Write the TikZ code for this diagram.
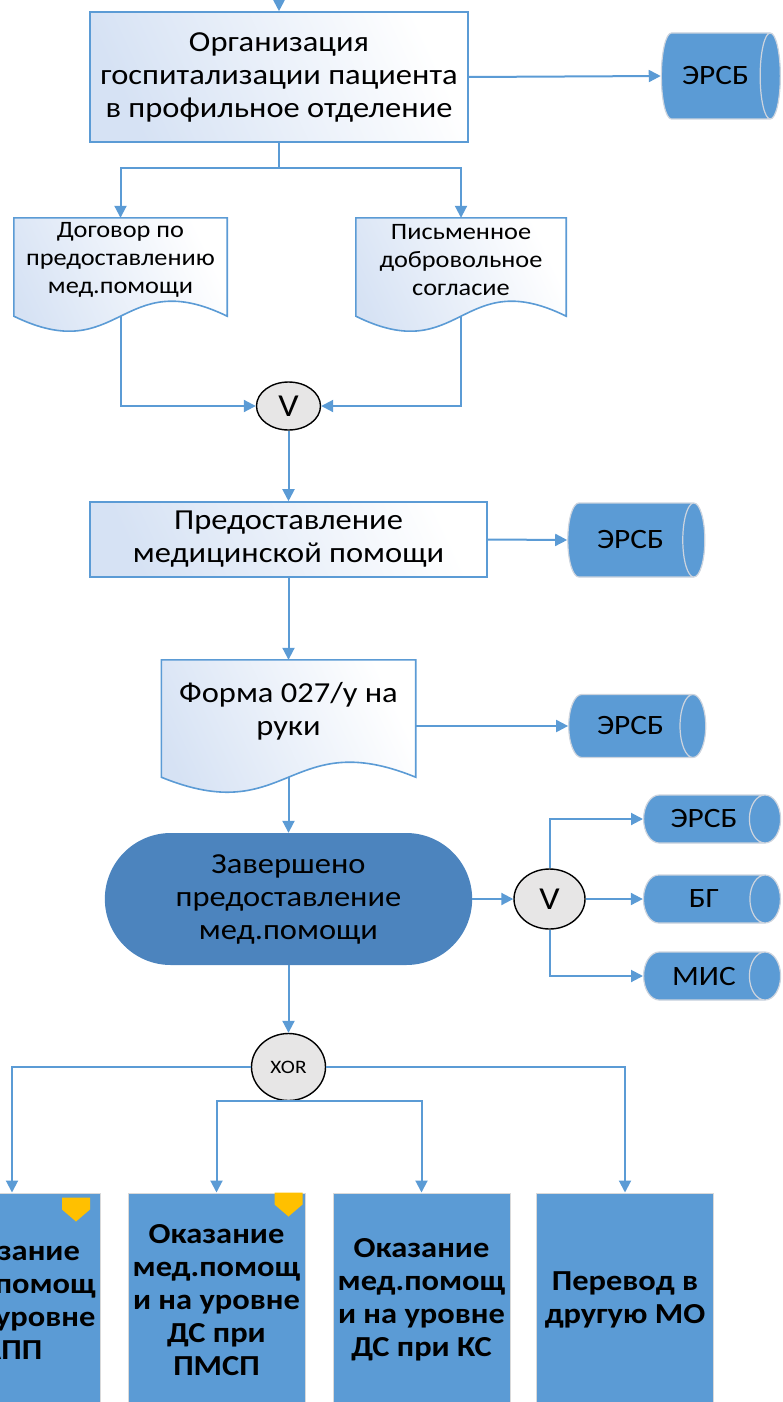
\documentclass[tikz,border=0pt]{standalone}
\usepackage{fontspec}
\setmainfont{Carlito}[FakeStretch=1.12]
\usetikzlibrary{positioning,shapes.geometric,shapes.misc,arrows.meta,backgrounds,calc}

\definecolor{lineblue}{RGB}{91,155,213}
\definecolor{paleblue}{RGB}{214,226,244}
\definecolor{termblue}{RGB}{76,132,190}
\definecolor{storeblue}{RGB}{91,155,213}
\definecolor{storeedge}{RGB}{205,212,222}
\definecolor{gategray}{RGB}{231,230,230}
\definecolor{markyellow}{RGB}{255,192,0}

\begin{document}
\begin{tikzpicture}[x=1pt, y=-1pt,
    flow/.style={draw=lineblue, line width=2pt, -{Triangle[length=12pt,width=12pt]}},
    procbox/.style={rectangle, draw=lineblue, line width=1.6pt, left color=paleblue,
        right color=white, shading angle=115, align=center, inner sep=2pt,
        font=\fontsize{29}{33}\selectfont},
    docbox/.style={rectangle, draw=none, align=center, inner sep=2pt,
        font=\fontsize{23.5}{28}\selectfont},
    docline/.style={draw=lineblue, line width=1.6pt, left color=paleblue,
        right color=white, shading angle=115},
    storage/.style={cylinder, shape border rotate=0, draw=storeedge,
        line width=1.2pt, fill=storeblue, inner sep=0pt,
        font=\fontsize{28}{30}\selectfont},
    gate/.style={ellipse, draw=black, line width=1.4pt, fill=gategray, inner sep=0pt},
    endbox/.style={rounded rectangle, fill=termblue, draw=none, align=center,
        minimum width=374, minimum height=132, font=\fontsize{29}{33}\selectfont},
    actbox/.style={rectangle, fill=storeblue, draw=white!85!black, line width=1pt,
        align=center, minimum width=177, minimum height=214,
        font=\fontsize{29}{33}\selectfont\bfseries},
    flag/.style={fill=markyellow, draw=none}]
    % frame of the cut-out
    \useasboundingbox (0,0) rectangle (783,1402);
    \clip (0,0) rectangle (783,1402);
    % hospitalisation
    \coordinate (topin) at (279,0);
    \node[procbox, minimum width=378, minimum height=130] (org) at (279,77)
        {Организация\\госпитализации пациента\\в профильное отделение};
    \node[storage, minimum height=119, minimum width=86, aspect=1.1] (ersbA)
        at (715.5,76) {ЭРСБ};
    % documents
    \node[docbox, minimum width=213, minimum height=84] (dogovor) at (120.5,260)
        {Договор по\\предоставлению\\мед.помощи};
    \node[docbox, minimum width=210, minimum height=84] (soglasie) at (461,260)
        {Письменное\\добровольное\\согласие};
    \node[gate, minimum width=64, minimum height=48, font=\fontsize{32}{32}\selectfont]
        (orA) at (288.5,406) {V};
    % care
    \node[procbox, minimum width=397, minimum height=75] (predost) at (288.5,539.5)
        {Предоставление\\медицинской помощи};
    \node[storage, minimum height=137, minimum width=74, aspect=1.2] (ersbB)
        at (630.5,540) {ЭРСБ};
    \node[docbox, minimum width=254, minimum height=103,
        font=\fontsize{29}{33}\selectfont] (forma) at (288.5,711.5)
        {Форма 027/у на\\руки};
    \node[storage, minimum height=137, minimum width=63, aspect=1.4] (ersbC)
        at (630.5,726) {ЭРСБ};
    % end of care
    \node[endbox] (zaversh) at (288.5,899)
        {Завершено\\предоставление\\мед.помощи};
    \node[gate, minimum width=71, minimum height=60, font=\fontsize{32}{32}\selectfont]
        (orB) at (549.5,899) {V};
    \node[storage, minimum height=137, minimum width=48, aspect=1.7] (ersbD)
        at (704,819) {ЭРСБ};
    \node[storage, minimum height=137, minimum width=48, aspect=1.7] (bg)
        at (704,899) {БГ};
    \node[storage, minimum height=137, minimum width=48, aspect=1.7] (mis)
        at (704,976) {МИС};
    % branches
    \node[gate, minimum width=74, minimum height=67, font=\fontsize{19}{19}\selectfont]
        (xor) at (288.5,1067) {XOR};
    \node[actbox] (app) at (12,1300) {Оказание\\мед.помощ\\и на уровне\\АПП};
    \node[actbox] (pmsp) at (216.5,1300) {Оказание\\мед.помощ\\и на уровне\\ДС при\\ПМСП};
    \node[actbox] (ks) at (421.5,1300) {Оказание\\мед.помощ\\и на уровне\\ДС при КС};
    \node[actbox] (perevod) at (625,1300) {Перевод в\\другую МО};
    % yellow flags
    \fill[flag] ($(app.north east)+(-11,5)$) -- ++(0,12) -- ++(-14,12) -- ++(-14,-12)
        -- ++(0,-12) -- cycle;
    \fill[flag] ($(pmsp.north east)+(-3,0)$) -- ++(0,12) -- ++(-14,12) -- ++(-14,-12)
        -- ++(0,-12) -- cycle;
    % document outlines
    \begin{scope}[on background layer]
        \foreach \d in {dogovor,soglasie,forma}
            \draw[docline] (\d.north west) -- (\d.north east)
                -- ([yshift=-14pt]\d.south east)
                .. controls ([yshift=38pt]\d.south) and ([yshift=-66pt]\d.south) ..
                ([yshift=-14pt]\d.south west) -- cycle;
    \end{scope}
    % connectors
    \draw[flow] (topin) -- (org.north);
    \draw[flow] (org.east) -- (ersbA.west);
    \draw[flow] (org.south) -- ++(0,25) -| (dogovor.north);
    \draw[flow] (org.south) -- ++(0,25) -| (soglasie.north);
    \draw[flow] ([yshift=-14pt]dogovor.south) |- (orA.west);
    \draw[flow] ([yshift=-14pt]soglasie.south) |- (orA.east);
    \draw[flow] (orA.south) -- (predost.north);
    \draw[flow] (predost.east) -- (ersbB.west);
    \draw[flow] (predost.south) -- (forma.north);
    \draw[flow] (forma.east |- ersbC.west) -- (ersbC.west);
    \draw[flow] ([yshift=-14pt]forma.south) -- (zaversh.north);
    \draw[flow] (zaversh.east) -- (orB.west);
    \draw[flow] (orB.north) |- (ersbD.west);
    \draw[flow] (orB.east) -- (bg.west);
    \draw[flow] (orB.south) |- (mis.west);
    \draw[flow] (zaversh.south) -- (xor.north);
    \draw[flow] (xor.west) -| (app.north);
    \draw[flow] (xor.east) -| (perevod.north);
    \draw[flow] (xor.south) -| (pmsp.north);
    \draw[flow] (xor.south) -| (ks.north);
\end{tikzpicture}
\end{document}
